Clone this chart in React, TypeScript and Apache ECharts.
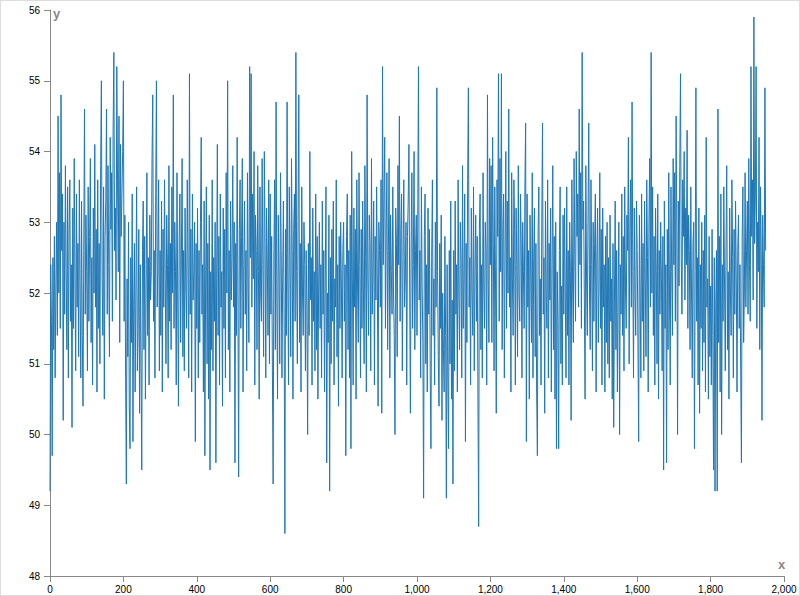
import React, { useEffect, useRef } from "react";
import * as echarts from "echarts";

// Tick values
const xTicks = [0, 200, 400, 600, 800, 1000, 1200, 1400, 1600, 1800, 2000];
const yTicks = [48, 49, 50, 51, 52, 53, 54, 55, 56];

// Sample spacing on x, and series values in blocks of 100 x units (50 samples each)
const xStep = 2;
const y0000 = [
  49.2, 52.4, 51.6, 49.7, 52.5, 51.2, 52.8, 50.8, 52.1, 53.0,
  51.4, 54.5, 52.0, 53.7, 51.5, 54.8, 52.6, 53.4, 50.2, 53.0,
  51.7, 53.8, 52.3, 51.2, 53.5, 50.8, 52.9, 53.6, 51.6, 52.4,
  50.1, 53.2, 51.5, 53.9, 52.2, 50.9, 53.4, 51.8, 52.7, 51.1,
  53.6, 52.0, 50.8, 53.3, 51.4, 50.4, 52.6, 54.6, 51.7, 53.1,
];
const y0100 = [
  52.3, 50.9, 53.5, 51.6, 52.8, 53.9, 51.3, 52.5, 50.7, 53.2,
  52.0, 54.1, 51.8, 52.9, 50.6, 53.6, 51.5, 52.7, 51.0, 53.8,
  55.0, 52.2, 51.4, 53.5, 50.5, 52.8, 53.3, 54.6, 51.7, 53.8,
  52.4, 51.1, 54.2, 52.9, 53.7, 51.6, 54.3, 55.4, 52.6, 53.2,
  51.9, 55.2, 53.6, 52.3, 54.5, 51.3, 54.1, 52.8, 53.4, 54.0,
];
const y0200 = [
  55.0, 51.6, 53.1, 50.8, 49.3, 52.2, 51.1, 53.0, 50.4, 49.8,
  52.5, 51.3, 53.4, 49.9, 51.8, 52.7, 50.6, 52.0, 53.5, 50.9,
  51.5, 52.9, 50.3, 52.4, 51.0, 49.5, 52.6, 53.3, 51.2, 52.8,
  50.5, 52.1, 53.7, 51.4, 52.5, 50.7, 53.1, 51.9, 52.3, 53.9,
  54.8, 51.6, 52.6, 50.8, 53.4, 55.0, 51.8, 52.4, 53.6, 50.9,
];
const y0300 = [
  52.6, 51.4, 53.3, 50.6, 52.9, 51.8, 53.6, 52.2, 51.0, 53.1,
  52.4, 50.8, 53.8, 51.6, 52.7, 51.2, 53.5, 52.0, 54.8, 51.5,
  53.0, 52.3, 50.7, 53.7, 51.9, 50.4, 52.8, 53.4, 51.3, 52.5,
  53.9, 51.1, 52.6, 50.9, 53.2, 52.1, 51.5, 53.6, 52.4, 50.8,
  55.1, 51.7, 52.9, 50.6, 53.4, 51.9, 52.3, 53.0, 49.9, 52.7,
];
const y0400 = [
  51.5, 53.2, 50.8, 52.6, 51.3, 53.0, 54.2, 51.7, 52.4, 50.6,
  53.3, 49.7, 52.1, 53.5, 51.0, 52.7, 50.5, 53.1, 49.5, 52.3,
  51.2, 53.6, 50.9, 52.5, 51.6, 53.0, 49.6, 52.2, 54.1, 51.4,
  52.8, 50.7, 53.4, 51.8, 52.3, 50.4, 53.2, 51.5, 52.9, 50.8,
  53.7, 52.0, 55.0, 51.2, 52.6, 50.6, 53.3, 51.9, 52.5, 53.8,
];
const y0500 = [
  51.8, 53.0, 49.6, 52.7, 51.4, 54.2, 52.0, 49.4, 52.9, 53.6,
  51.5, 52.8, 53.9, 50.6, 52.4, 53.3, 51.7, 52.6, 50.9, 53.7,
  52.1, 51.3, 55.2, 52.5, 55.1, 51.8, 53.4, 52.2, 54.0, 50.7,
  53.1, 52.6, 51.2, 53.8, 52.3, 50.5, 53.5, 52.0, 51.6, 53.9,
  52.4, 51.1, 54.0, 52.7, 50.8, 53.2, 52.5, 51.4, 53.6, 51.0,
];
const y0600 = [
  53.4, 51.7, 52.8, 50.9, 49.3, 52.5, 53.6, 51.2, 54.7, 52.0,
  50.5, 53.1, 52.3, 51.0, 53.7, 52.6, 50.8, 52.2, 53.3, 51.5,
  48.6, 52.9, 51.4, 54.7, 52.1, 50.7, 53.5, 52.4, 51.1, 53.9,
  52.6, 50.5, 52.9, 53.4, 51.6, 55.4, 52.3, 51.0, 53.2, 54.8,
  51.3, 52.7, 50.6, 53.5, 52.0, 51.4, 53.0, 52.4, 50.9, 52.6,
];
const y0700 = [
  51.8, 50.0, 52.7, 51.4, 54.0, 51.9, 52.5, 50.7, 53.2, 51.6,
  52.3, 50.9, 53.4, 51.2, 52.8, 50.5, 52.1, 53.0, 51.5, 52.4,
  50.8, 53.3, 51.7, 52.6, 50.6, 52.2, 53.5, 49.6, 52.0, 51.3,
  53.1, 49.2, 52.5, 51.0, 52.9, 51.6, 53.3, 50.7, 52.2, 51.8,
  53.6, 51.1, 52.4, 50.4, 52.8, 51.5, 53.0, 52.1, 50.8, 52.6,
];
const y0800 = [
  53.0, 51.6, 52.4, 49.7, 52.8, 53.4, 51.2, 52.6, 50.8, 53.1,
  49.8, 54.0, 52.2, 50.7, 53.2, 51.8, 52.9, 50.5, 53.6, 52.1,
  51.3, 53.7, 52.4, 50.8, 52.9, 51.5, 53.3, 52.0, 51.0, 53.8,
  52.5, 50.6, 54.8, 52.2, 51.4, 53.1, 52.7, 50.9, 53.9, 51.7,
  52.3, 53.3, 50.7, 52.8, 51.9, 53.5, 52.1, 50.4, 53.0, 52.6,
];
const y0900 = [
  51.8, 53.6, 50.3, 55.2, 52.4, 53.3, 54.2, 51.5, 52.9, 53.7,
  51.2, 52.6, 53.9, 50.8, 53.1, 52.3, 51.7, 53.5, 52.0, 51.4,
  50.0, 53.2, 52.7, 51.1, 53.8, 52.4, 54.5, 51.6, 52.9, 53.4,
  50.9, 52.5, 53.6, 51.8, 52.2, 53.0, 50.7, 52.8, 53.3, 54.1,
  52.1, 50.3, 52.7, 53.7, 51.5, 52.4, 54.0, 51.2, 52.6, 53.1,
];
const y1000 = [
  51.4, 53.0, 55.2, 51.9, 52.6, 50.8, 53.5, 52.1, 51.3, 49.1,
  52.8, 53.4, 51.0, 52.4, 50.6, 53.2, 51.7, 52.9, 50.9, 49.8,
  52.5, 53.6, 51.4, 52.2, 50.7, 53.0, 51.8, 54.9, 52.3, 51.1,
  50.4, 52.7, 51.5, 53.1, 50.2, 52.0, 51.2, 50.6, 52.8, 51.4,
  49.1, 52.4, 50.8, 49.8, 52.6, 51.0, 53.3, 50.5, 51.9, 49.3,
];
const y1100 = [
  52.6, 50.9, 53.3, 51.7, 52.4, 50.6, 53.6, 52.0, 51.2, 53.0,
  52.5, 50.8, 53.8, 51.5, 52.2, 53.4, 49.9, 52.7, 51.3, 53.6,
  54.9, 51.8, 52.5, 50.7, 53.2, 52.0, 51.4, 53.5, 50.9, 52.3,
  53.1, 51.6, 52.8, 50.5, 48.7, 52.9, 53.4, 51.2, 52.4, 50.8,
  53.7, 52.1, 51.5, 53.0, 52.6, 50.7, 54.8, 52.2, 51.3, 53.9,
];
const y1200 = [
  52.4, 53.8, 51.3, 54.2, 52.7, 50.9, 53.5, 52.1, 50.3, 53.6,
  52.8, 55.1, 51.6, 53.9, 52.3, 55.1, 51.2, 52.9, 53.4, 50.8,
  52.6, 54.0, 51.5, 53.3, 52.0, 54.6, 51.8, 52.5, 50.6, 53.7,
  52.2, 51.4, 53.6, 52.9, 50.7, 53.2, 52.4, 51.1, 53.8, 52.0,
  51.6, 53.4, 52.7, 50.8, 53.0, 52.3, 51.5, 53.5, 54.4, 49.9,
];
const y1300 = [
  53.4, 51.8, 52.6, 50.5, 53.1, 52.2, 51.3, 53.7, 50.8, 52.5,
  53.2, 51.1, 52.7, 50.6, 49.7, 52.9, 53.5, 51.4, 52.2, 50.7,
  53.0, 54.4, 51.7, 52.5, 50.3, 53.3, 52.0, 51.5, 53.6, 50.8,
  52.7, 51.9, 53.2, 50.6, 52.4, 53.8, 51.2, 52.8, 50.5, 53.0,
  49.8, 52.3, 51.6, 49.8, 52.6, 53.5, 51.0, 52.1, 50.7, 53.1,
];
const y1400 = [
  51.7, 53.2, 52.0, 50.8, 53.5, 51.4, 52.6, 50.7, 53.0, 52.3,
  50.2, 53.6, 52.1, 51.3, 53.9, 52.5, 51.6, 54.0, 52.8, 53.4,
  51.8, 54.6, 52.4, 53.7, 51.5, 55.4, 52.9, 53.3, 51.9, 50.5,
  53.8, 52.2, 51.4, 53.1, 54.4, 52.0, 51.2, 53.6, 52.4, 50.9,
  53.0, 51.6, 52.7, 53.4, 50.6, 52.5, 53.2, 51.3, 52.1, 53.7,
];
const y1500 = [
  51.5, 52.9, 50.7, 53.2, 51.8, 52.4, 50.6, 52.8, 51.3, 53.0,
  51.0, 52.5, 50.8, 53.1, 51.6, 52.2, 50.5, 52.7, 50.1, 51.9,
  53.3, 51.2, 52.6, 50.6, 52.0, 53.0, 50.0, 52.4, 51.7, 53.4,
  51.4, 52.8, 50.9, 53.5, 52.1, 51.5, 53.1, 52.6, 54.2, 51.0,
  52.9, 53.6, 51.8, 54.7, 52.3, 50.8, 53.2, 52.0, 51.4, 53.3,
];
const y1600 = [
  52.6, 51.3, 49.9, 53.1, 52.0, 50.8, 53.4, 51.6, 52.7, 50.9,
  53.3, 52.2, 51.1, 53.6, 52.5, 50.6, 53.0, 53.9, 51.8, 55.4,
  52.0, 53.5, 51.4, 52.8, 50.7, 53.2, 52.3, 51.0, 53.4, 50.5,
  52.6, 51.7, 53.0, 52.2, 50.9, 52.8, 49.5, 53.3, 51.5, 52.4,
  49.6, 52.9, 51.2, 53.7, 52.0, 50.7, 53.5, 52.3, 51.4, 53.9,
];
const y1700 = [
  52.4, 53.7, 51.6, 54.5, 52.9, 50.0, 53.3, 52.1, 53.8, 55.1,
  52.5, 51.7, 53.6, 52.8, 54.0, 51.9, 53.2, 52.4, 54.3, 51.5,
  53.1, 52.6, 51.2, 53.5, 52.0, 50.8, 52.7, 53.0, 49.8, 52.3,
  54.9, 51.6, 52.5, 50.7, 53.2, 50.3, 52.4, 51.5, 53.0, 50.9,
  52.6, 51.3, 53.1, 50.6, 54.2, 51.8, 52.2, 50.5, 52.8, 51.1,
];
const y1800 = [
  52.1, 50.7, 52.9, 51.4, 49.5, 52.5, 49.2, 51.8, 52.6, 49.2,
  54.6, 51.3, 52.8, 50.6, 53.4, 50.0, 52.4, 51.6, 53.5, 52.1,
  50.9, 52.7, 53.8, 51.2, 52.3, 50.5, 53.2, 52.0, 51.4, 53.6,
  52.5, 50.8, 52.9, 51.7, 53.3, 52.2, 50.6, 52.6, 53.1, 51.5,
  52.4, 50.9, 49.6, 52.8, 53.5, 51.3, 52.0, 53.7, 51.8, 52.6,
];
const y1900 = [
  53.3, 51.7, 53.9, 52.4, 51.6, 55.2, 52.8, 53.6, 51.9, 55.9,
  52.7, 53.4, 55.2, 51.5, 53.0, 52.3, 54.2, 51.2, 53.5, 52.6,
  50.2, 53.1, 52.4, 51.8, 54.9, 52.6,
];

const blockStarts = [0, 100, 200, 300, 400, 500, 600, 700, 800, 900, 1000, 1100, 1200, 1300, 1400, 1500, 1600, 1700, 1800, 1900];
const yBlocks = [
  y0000, y0100, y0200, y0300, y0400, y0500, y0600, y0700, y0800, y0900,
  y1000, y1100, y1200, y1300, y1400, y1500, y1600, y1700, y1800, y1900,
];

export default function App() {
  const ref = useRef<HTMLDivElement>(null);

  useEffect(() => {
    if (!ref.current) return;
    const chart = echarts.init(ref.current, undefined, { renderer: "svg" });
    const points: number[][] = [];
    yBlocks.forEach((block, b) => {
      block.forEach((v, j) => points.push([blockStarts[b] + j * xStep, v]));
    });

    const axisColor = "#888888";
    const labelFont = {
      color: "#000000",
      fontSize: 10,
      fontFamily: "'Liberation Sans', Arial, sans-serif",
    };

    chart.setOption({
      animation: false,
      backgroundColor: "#ffffff",
      grid: { left: 50, right: 16, top: 10, bottom: 20, containLabel: false },
      xAxis: {
        type: "value",
        min: xTicks[0],
        max: xTicks[xTicks.length - 1],
        interval: 200,
        axisLine: { show: true, lineStyle: { color: axisColor, width: 1 } },
        axisTick: { show: true, length: 6, lineStyle: { color: axisColor } },
        axisLabel: {
          ...labelFont,
          margin: 8,
          showMinLabel: true,
          showMaxLabel: true,
          formatter: (v: number) => v.toLocaleString("en-US"),
        },
        splitLine: { show: false },
      },
      yAxis: {
        type: "value",
        min: yTicks[0],
        max: yTicks[yTicks.length - 1],
        interval: 1,
        axisLine: { show: true, lineStyle: { color: axisColor, width: 1 } },
        axisTick: { show: true, length: 6, lineStyle: { color: axisColor } },
        axisLabel: { ...labelFont, margin: 10, showMinLabel: true, showMaxLabel: true },
        splitLine: { show: false },
      },
      graphic: [
        {
          type: "text",
          left: 53,
          top: 7,
          style: {
            text: "y",
            fill: "#888888",
            font: "bold 13px 'Liberation Sans', Arial, sans-serif",
          },
        },
        {
          type: "text",
          left: 778,
          top: 558,
          style: {
            text: "x",
            fill: "#888888",
            font: "bold 13px 'Liberation Sans', Arial, sans-serif",
          },
        },
      ],
      series: [
        {
          type: "line",
          data: points,
          showSymbol: false,
          symbol: "none",
          lineStyle: { color: "#1f77b4", width: 1 },
          itemStyle: { color: "#1f77b4" },
          emphasis: { disabled: true },
        },
      ],
    });

    return () => chart.dispose();
  }, []);

  return (
    <div style={{ position: "fixed", left: 0, top: 0, width: 800, height: 596, background: "#fff" }}>
      <div ref={ref} style={{ position: "absolute", left: 0, top: 0, width: 800, height: 596 }} />
      <div
        style={{
          position: "absolute",
          left: 0,
          top: 0,
          width: 800,
          height: 596,
          boxSizing: "border-box",
          border: "1px solid #dddddd",
          pointerEvents: "none",
        }}
      />
    </div>
  );
}
